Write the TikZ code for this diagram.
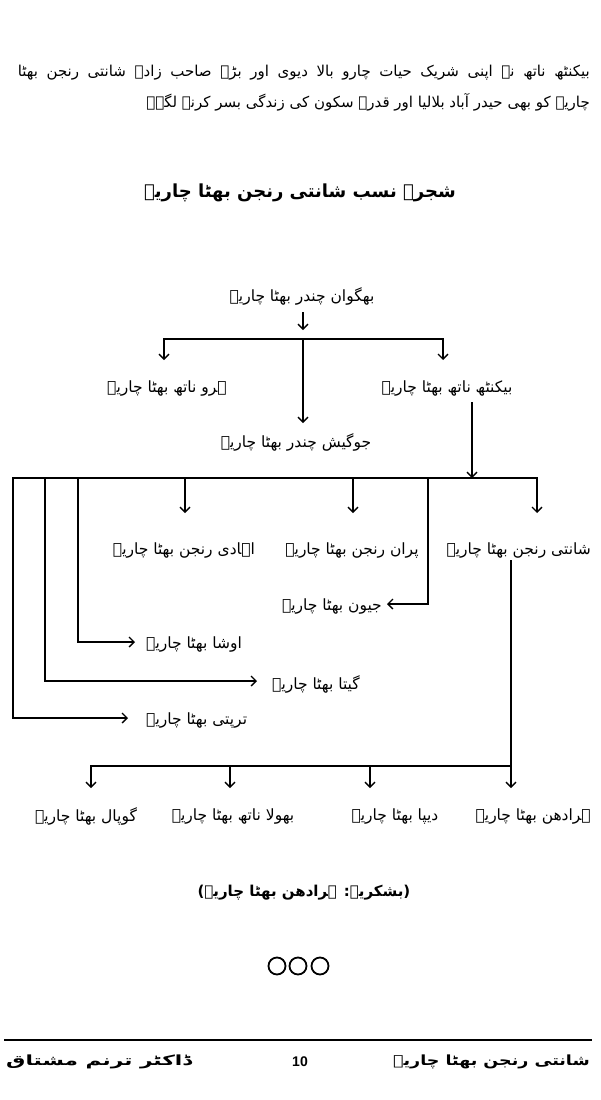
\documentclass[tikz,border=0pt]{standalone}
\usepackage{fontspec}
\usetikzlibrary{arrows.meta}
\newfontfamily\ur[Script=Arabic]{DejaVu Sans}
\newfontfamily\urb[Script=Arabic]{DejaVu Sans Bold}
\newfontfamily\lat{Liberation Sans}
\TeXXeTstate=1
\tikzset{
  ln/.style={line width=1.3pt, line join=miter},
  arr/.style={ln, -{Straight Barb[length=5pt,width=10pt,line width=1.3pt]}},
  lbl/.style={font=\ur\fontsize{15.5}{18}\selectfont, inner sep=0pt},
  para/.style={font=\ur\fontsize{15}{18}\selectfont, inner sep=0pt, anchor=east},
  ttl/.style={font=\urb\fontsize{18}{22}\selectfont, inner sep=0pt},
  cred/.style={font=\urb\fontsize{15}{18}\selectfont, inner sep=0pt},
  foot/.style={font=\urb\fontsize{14}{16}\selectfont, inner sep=0pt}
}
\begin{document}
\begin{tikzpicture}[x=1pt,y=-1pt]
\useasboundingbox (0,0) rectangle (600,1100);
\fill[white] (0,0) rectangle (600,1100);
% paragraph
\node[para] (p1) at (590,73) {\makebox[572pt][s]{\beginR بیکنٹھ ناتھ نے اپنی شریک حیات چارو بالا دیوی اور بڑے صاحب زادے شانتی رنجن بھٹا\endR}};
\node[para] (p2) at (590,102) {\beginR چاریہ کو بھی حیدر آباد بلالیا اور قدرے سکون کی زندگی بسر کرنے لگے۔\endR};
% title
\node[ttl] (title) at (300,193) {\beginR شجرۂ نسب شانتی رنجن بھٹا چاریہ\endR};
% generation 1
\node[lbl] (bhagwan) at (302,296) {\beginR بھگوان چندر بھٹا چاریہ\endR};
\coordinate (t0) at (303,312);
\coordinate (t1) at (303,330);
\draw[arr] (t0) -- (t1);
\coordinate (hM) at (303,339);
\coordinate (haroTip) at (164,360);
\coordinate (baikTip) at (443,360);
\coordinate (jogTip) at (303,423);
\draw[arr] (hM) -| (haroTip);
\draw[arr] (hM) -| (baikTip);
\draw[arr] (hM) -- (jogTip);
\node[lbl] (haro) at (167,388) {\beginR ہرو ناتھ بھٹا چاریہ\endR};
\node[lbl] (baik) at (447,388) {\beginR بیکنٹھ ناتھ بھٹا چاریہ\endR};
\node[lbl] (jog) at (296,442) {\beginR جوگیش چندر بھٹا چاریہ\endR};
% generation 2
\coordinate (bk0) at (472,402);
\coordinate (h2) at (472,478);
\draw[arr] (bk0) -- (h2);
\coordinate (shantiTip) at (537,513);
\coordinate (pranTip) at (353,513);
\coordinate (ahadiTip) at (185,513);
\draw[arr] (h2) -| (shantiTip);
\draw[arr] (h2) -| (pranTip);
\draw[arr] (h2) -| (ahadiTip);
\coordinate (jc) at (428,604);
\coordinate (jeewanTip) at (387,604);
\coordinate (uc) at (78,642);
\coordinate (ushaTip) at (135,642);
\coordinate (gc) at (45,681);
\coordinate (geetaTip) at (257,681);
\coordinate (tc) at (13,718);
\coordinate (triptiTip) at (128,718);
\draw[arr] (h2) -| (jc) -- (jeewanTip);
\draw[arr] (h2) -| (uc) -- (ushaTip);
\draw[arr] (h2) -| (gc) -- (geetaTip);
\draw[arr] (h2) -| (tc) -- (triptiTip);
\node[lbl, anchor=east] (shanti) at (591,550) {\beginR شانتی رنجن بھٹا چاریہ\endR};
\node[lbl] (pran) at (352,550) {\beginR پران رنجن بھٹا چاریہ\endR};
\node[lbl] (ahadi) at (184,550) {\beginR اہادی رنجن بھٹا چاریہ\endR};
\node[lbl, anchor=east] (jeewan) at (382,606) {\beginR جیون بھٹا چاریہ\endR};
\node[lbl, anchor=west] (usha) at (146,644) {\beginR اوشا بھٹا چاریہ\endR};
\node[lbl, anchor=west] (geeta) at (272,684) {\beginR گیتا بھٹا چاریہ\endR};
\node[lbl, anchor=west] (tripti) at (146,720) {\beginR ترپتی بھٹا چاریہ\endR};
% generation 3
\coordinate (sv0) at (511,560);
\coordinate (h3) at (511,766);
\coordinate (haraTip) at (511,788);
\coordinate (deepaTip) at (370,788);
\coordinate (bholaTip) at (230,788);
\coordinate (gopalTip) at (91,788);
\draw[arr] (sv0) -- (haraTip);
\draw[arr] (h3) -| (deepaTip);
\draw[arr] (h3) -| (bholaTip);
\draw[arr] (h3) -| (gopalTip);
\node[lbl, anchor=east] (hara) at (591,816) {\beginR ہرادھن بھٹا چاریہ\endR};
\node[lbl] (deepa) at (395,816) {\beginR دیپا بھٹا چاریہ\endR};
\node[lbl] (bhola) at (233,816) {\beginR بھولا ناتھ بھٹا چاریہ\endR};
\node[lbl] (gopal) at (86,816) {\beginR گوپال بھٹا چاریہ\endR};
% credits
\node[cred] (credit) at (304,893) {\beginR (بشکریہ: ہرادھن بھٹا چاریہ)\endR};
% ornament
\foreach \cx in {277,298,320}
  \draw[line width=1.8pt] (\cx,966) circle[radius=8.5pt];
% footer
\coordinate (r0) at (4,1040);
\coordinate (r1) at (592,1040);
\draw[line width=2pt] (r0) -- (r1);
\node[foot, anchor=east] (fr) at (590,1062) {\scalebox{1.25}[1]{\beginR شانتی رنجن بھٹا چاریہ\endR}};
\node[foot, anchor=west] (fl) at (6,1062) {\scalebox{1.55}[1]{\beginR ڈاکٹر ترنم مشتاق\endR}};
\node[inner sep=0pt, font=\lat\bfseries\fontsize{14}{16}\selectfont] (pg) at (300,1062) {10};
\end{tikzpicture}
\end{document}
